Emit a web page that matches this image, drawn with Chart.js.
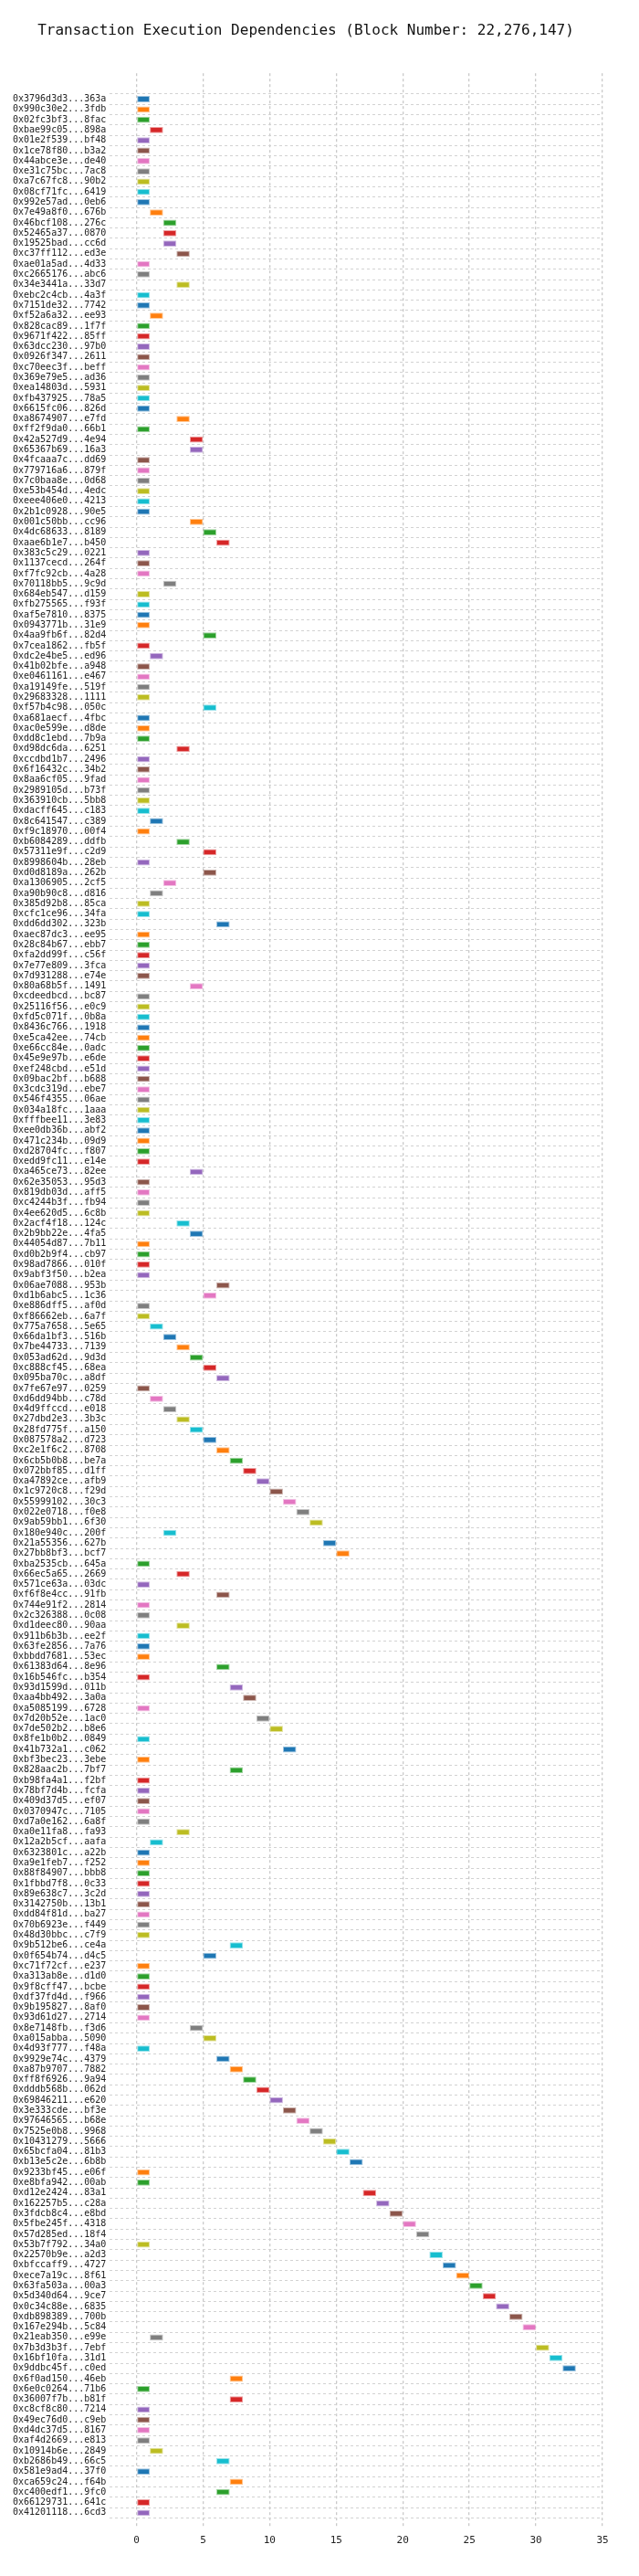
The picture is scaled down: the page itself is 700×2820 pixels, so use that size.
<!DOCTYPE html>
<html>
<head>
<meta charset="utf-8">
<title>Transaction Execution Dependencies</title>
<script src="https://cdn.jsdelivr.net/npm/chart.js@4.4.1/dist/chart.umd.min.js"></script>
<style>
  html, body { margin:0; padding:0; background:#fff; }
  #wrap { width:700px; height:2820px; position:relative; }
</style>
</head>
<body>
<div id="wrap"><canvas id="chart-deps"></canvas></div>
<script>
/* =============================================================
   Transaction execution dependencies — one bar per tx, placed
   at the step where it can start executing
   ============================================================= */

const TITLE = 'Transaction Execution Dependencies (Block Number: 22,276,147)';

/* tx hashes, top to bottom */
const TX_HASHES = [
  '0x3796d3d3...363a','0x990c30e2...3fdb','0x02fc3bf3...8fac','0xbae99c05...898a','0x01e2f539...bf48',
  '0x1ce78f80...b3a2','0x44abce3e...de40','0xe31c75bc...7ac8','0xa7c67fc8...90b2','0x08cf71fc...6419',
  '0x992e57ad...0eb6','0x7e49a8f0...676b','0x46bcf108...276c','0x52465a37...0870','0x19525bad...cc6d',
  '0xc37ff112...ed3e','0xae01a5ad...4d33','0xc2665176...abc6','0x34e3441a...33d7','0xebc2c4cb...4a3f',
  '0x7151de32...7742','0xf52a6a32...ee93','0x828cac89...1f7f','0x9671f422...85ff','0x63dcc230...97b0',
  '0x0926f347...2611','0xc70eec3f...beff','0x369e79e5...ad36','0xea14803d...5931','0xfb437925...78a5',
  '0x6615fc06...826d','0xa8674907...e7fd','0xff2f9da0...66b1','0x42a527d9...4e94','0x65367b69...16a3',
  '0x4fcaaa7c...dd69','0x779716a6...879f','0x7c0baa8e...0d68','0xe53b454d...4edc','0xeee406e0...4213',
  '0x2b1c0928...90e5','0x001c50bb...cc96','0x4dc68633...8189','0xaae6b1e7...b450','0x383c5c29...0221',
  '0x1137cecd...264f','0xf7fc92cb...4a28','0x70118bb5...9c9d','0x684eb547...d159','0xfb275565...f93f',
  '0xaf5e7810...8375','0x0943771b...31e9','0x4aa9fb6f...82d4','0x7cea1862...fb5f','0xdc2e4be5...ed96',
  '0x41b02bfe...a948','0xe0461161...e467','0xa19149fe...519f','0x29683328...1111','0xf57b4c98...050c',
  '0xa681aecf...4fbc','0xac0e599e...d8de','0xdd8c1ebd...7b9a','0xd98dc6da...6251','0xccdbd1b7...2496',
  '0x6f16432c...34b2','0x8aa6cf05...9fad','0x2989105d...b73f','0x363910cb...5bb8','0xdacff645...c183',
  '0x8c641547...c389','0xf9c18970...00f4','0xb6084289...ddfb','0x57311e9f...c2d9','0x8998604b...28eb',
  '0xd0d8189a...262b','0xa1306905...2cf5','0xa90b90c8...d816','0x385d92b8...85ca','0xcfc1ce96...34fa',
  '0xdd6dd302...323b','0xaec87dc3...ee95','0x28c84b67...ebb7','0xfa2dd99f...c56f','0x7e77e809...3fca',
  '0x7d931288...e74e','0x80a68b5f...1491','0xcdeedbcd...bc87','0x25116f56...e0c9','0xfd5c071f...0b8a',
  '0x8436c766...1918','0xe5ca42ee...74cb','0xe66cc84e...0adc','0x45e9e97b...e6de','0xef248cbd...e51d',
  '0x09bac2bf...b688','0x3cdc319d...ebe7','0x546f4355...06ae','0x034a18fc...1aaa','0xfffbee11...3e83',
  '0xee0db36b...abf2','0x471c234b...09d9','0xd28704fc...f807','0xedd9fc11...e14e','0xa465ce73...82ee',
  '0x62e35053...95d3','0x819db03d...aff5','0xc4244b3f...fb94','0x4ee620d5...6c8b','0x2acf4f18...124c',
  '0x2b9bb22e...4fa5','0x44054d87...7b11','0xd0b2b9f4...cb97','0x98ad7866...010f','0x9abf3f50...b2ea',
  '0x06ae7088...953b','0xd1b6abc5...1c36','0xe886dff5...af0d','0xf86662eb...6a7f','0x775a7658...5e65',
  '0x66da1bf3...516b','0x7be44733...7139','0x053ad62d...9d3d','0xc888cf45...68ea','0x095ba70c...a8df',
  '0x7fe67e97...0259','0xd6dd94bb...c78d','0x4d9ffccd...e018','0x27dbd2e3...3b3c','0x28fd775f...a150',
  '0x087578a2...d723','0xc2e1f6c2...8708','0x6cb5b0b8...be7a','0x072bbf85...d1ff','0xa47892ce...afb9',
  '0x1c9720c8...f29d','0x55999102...30c3','0x022e0718...f0e8','0x9ab59bb1...6f30','0x180e940c...200f',
  '0x21a55356...627b','0x27bb8bf3...bcf7','0xba2535cb...645a','0x66ec5a65...2669','0x571ce63a...03dc',
  '0xf6f8e4cc...91fb','0x744e91f2...2814','0x2c326388...0c08','0xd1deec80...90aa','0x911b6b3b...ee2f',
  '0x63fe2856...7a76','0xbbdd7681...53ec','0x61383d64...8e96','0x16b546fc...b354','0x93d1599d...011b',
  '0xaa4bb492...3a0a','0xa5085199...6728','0x7d20b52e...1ac0','0x7de502b2...b8e6','0x8fe1b0b2...0849',
  '0x41b732a1...c062','0xbf3bec23...3ebe','0x828aac2b...7bf7','0xb98fa4a1...f2bf','0x78bf7d4b...fcfa',
  '0x409d37d5...ef07','0x0370947c...7105','0xd7a0e162...6a8f','0xa0e11fa8...fa93','0x12a2b5cf...aafa',
  '0x6323801c...a22b','0xa9e1feb7...f252','0x88f84907...bbb8','0x1fbbd7f8...0c33','0x89e638c7...3c2d',
  '0x3142750b...13b1','0xdd84f81d...ba27','0x70b6923e...f449','0x48d30bbc...c7f9','0x9b512be6...ce4a',
  '0x0f654b74...d4c5','0xc71f72cf...e237','0xa313ab8e...d1d0','0x9f8cff47...bcbe','0xdf37fd4d...f966',
  '0x9b195827...8af0','0x93d61d27...2714','0x8e7148fb...f3d6','0xa015abba...5090','0x4d93f777...f48a',
  '0x9929e74c...4379','0xa87b9707...7882','0xff8f6926...9a94','0xdddb568b...062d','0x69846211...e620',
  '0x3e333cde...bf3e','0x97646565...b68e','0x7525e0b8...9968','0x10431279...5666','0x65bcfa04...81b3',
  '0xb13e5c2e...6b8b','0x9233bf45...e06f','0xe8bfa942...00ab','0xd12e2424...83a1','0x162257b5...c28a',
  '0x3fdcb8c4...e8bd','0x5fbe245f...4318','0x57d285ed...18f4','0x53b7f792...34a0','0x22570b9e...a2d3',
  '0xbfccaff9...4727','0xece7a19c...8f61','0x63fa503a...00a3','0x5d340d64...9ce7','0x0c34c88e...6835',
  '0xdb898389...700b','0x167e294b...5c84','0x21eab350...e99e','0x7b3d3b3f...7ebf','0x16bf10fa...31d1',
  '0x9ddbc45f...c0ed','0x6f0ad150...46eb','0x6e0c0264...71b6','0x36007f7b...b81f','0xc8cf8c80...7214',
  '0x49ec76d0...c9eb','0xd4dc37d5...8167','0xaf4d2669...e813','0x10914b6e...2849','0xb2686b49...66c5',
  '0x581e9ad4...37f0','0xca659c24...f64b','0xc400edf1...9fc0','0x66129731...641c','0x41201118...6cd3',
];

/* execution step each tx starts at (same order as TX_HASHES) */
const START_STEP = [
  0,0,0,1,0,  0,0,0,0,0,  0,1,2,2,2,  3,0,0,3,0,
  0,1,0,0,0,  0,0,0,0,0,  0,3,0,4,4,  0,0,0,0,0,
  0,4,5,6,0,  0,0,2,0,0,  0,0,5,0,1,  0,0,0,0,5,
  0,0,0,3,0,  0,0,0,0,0,  1,0,3,5,0,  5,2,1,0,0,
  6,0,0,0,0,  0,4,0,0,0,  0,0,0,0,0,  0,0,0,0,0,
  0,0,0,0,4,  0,0,0,0,3,  4,0,0,0,0,  6,5,0,0,1,
  2,3,4,5,6,  0,1,2,3,4,  5,6,7,8,9,  10,11,12,13,2,
  14,15,0,3,0,  6,0,0,3,0,  0,0,6,0,7,  8,0,9,10,0,
  11,0,7,0,0,  0,0,0,3,1,  0,0,0,0,0,  0,0,0,0,7,
  5,0,0,0,0,  0,0,4,5,0,  6,7,8,9,10,  11,12,13,14,15,
  16,0,0,17,18,  19,20,21,0,22,  23,24,25,26,27,  28,29,1,30,31,
  32,7,0,7,0,  0,0,0,1,6,  0,7,6,0,0,
];

const STEP_LEN = 1;                       // every tx occupies one step
const X_TICKS  = [0, 5, 10, 15, 20, 25, 30, 35];

/* matplotlib tab10, cycled per row */
const TAB10 = ['#1f77b4','#ff7f0e','#2ca02c','#d62728','#9467bd',
               '#8c564b','#e377c2','#7f7f7f','#bcbd22','#17becf'];

const MONO = "'DejaVu Sans Mono', 'Liberation Mono', monospace";

const rowColor = i => TAB10[i % TAB10.length];

new Chart(document.getElementById('chart-deps').getContext('2d'), {
  type: 'bar',
  data: {
    datasets: [{
      data: START_STEP.map((s, i) => ({ x: [s, s + STEP_LEN], y: i })),
      backgroundColor: START_STEP.map((_, i) => rowColor(i)),
      borderColor:     START_STEP.map((_, i) => rowColor(i) + '70'),
      borderWidth:     1,
      borderSkipped:   false,
      barPercentage:   0.6,
      categoryPercentage: 1,
    }],
  },
  options: {
    indexAxis: 'y',
    responsive: true, maintainAspectRatio: false, animation: false,
    layout: { padding: { left: 10, right: 40, top: 0, bottom: 25 } },
    plugins: {
      legend:  { display: false },
      tooltip: { enabled: false },
      title: {
        display: true,
        text: TITLE,
        color: '#111',
        font: { family: MONO, size: 16, weight: 'normal' },
        padding: { top: 24, bottom: 37 },
      },
    },
    scales: {
      x: {
        type: 'linear', position: 'bottom', min: -2, max: 35,
        afterBuildTicks: axis => { axis.ticks = X_TICKS.map(v => ({ value: v })); },
        ticks: { color: '#222', font: { family: MONO, size: 11 }, padding: 7, maxRotation: 0 },
        grid:  { color: '#c9c9c9', lineWidth: 1.3, drawTicks: false },
        border: { display: false, dash: [3, 3] },
      },
      y: {
        type: 'linear', reverse: true, min: -2, max: TX_HASHES.length,
        afterBuildTicks: axis => { axis.ticks = TX_HASHES.map((_, i) => ({ value: i })); },
        ticks: {
          autoSkip: false, padding: 4, color: '#222',
          font: { family: MONO, size: 10 },
          callback: v => TX_HASHES[v],
        },
        grid:  { color: '#d2d2d2', lineWidth: 1, drawTicks: false },
        border: { display: false, dash: [3, 3] },
      },
    },
  },
});
</script>
</body>
</html>
